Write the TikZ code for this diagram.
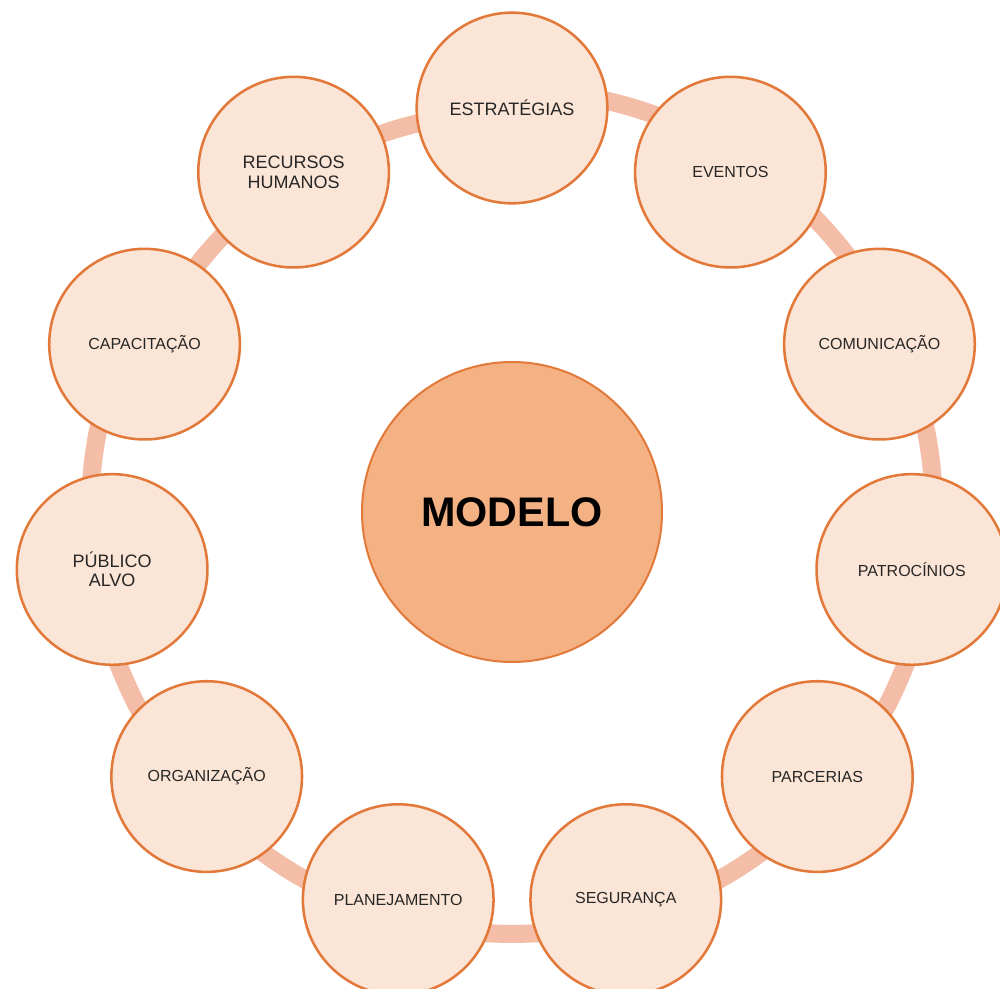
\documentclass[tikz,border=0pt]{standalone}
\usepackage{fontspec}
\setmainfont{Liberation Sans}
\usetikzlibrary{shapes,backgrounds}
\definecolor{peach}{HTML}{FBE5D6}
\definecolor{orng}{HTML}{E2793A}
\definecolor{salmon}{HTML}{F4B183}
\definecolor{ringc}{HTML}{F3BDA8}

\begin{document}
\begin{tikzpicture}[x=0.75pt, y=0.75pt]
\tikzstyle{nd}=[circle,draw=orng,line width=1.9pt,fill=peach,text=black!85,minimum size=143pt,inner sep=0pt,align=center,font=\fontsize{12}{14.6}\selectfont]
\tikzstyle{big}=[font=\fontsize{13.5}{14.6}\selectfont]
\tikzstyle{rg}=[draw=ringc,line width=13.6pt,bend left=90,looseness=0.515]
\tikzstyle{rgflat}=[draw=ringc,line width=13.6pt,bend left=9.9,looseness=1.08]
\useasboundingbox (0,0) rectangle (1000,989);
\node[nd, fill=salmon, line width=1.5pt, minimum size=225pt, text=black,
      font=\fontsize{31}{37}\selectfont\bfseries] (modelo) at (512,477) {MODELO};
\node[nd, big] (estrategias)  at ([shift={(90:404)}]modelo)      {ESTRATÉGIAS};
\node[nd]      (eventos)      at ([shift={(57.27:404)}]modelo)   {EVENTOS};
\node[nd]      (comunicacao)  at ([shift={(24.55:404)}]modelo)   {COMUNICAÇÃO};
\node[nd]      (patrocinios)  at ([shift={(-8.18:404)}]modelo)   {PATROCÍNIOS};
\node[nd]      (parcerias)    at ([shift={(-40.91:404)}]modelo)  {PARCERIAS};
\node[nd]      (seguranca)    at ([shift={(-73.64:404)}]modelo)  {SEGURANÇA};
\node[nd]      (planejamento) at ([shift={(-106.36:404)}]modelo) {PLANEJAMENTO};
\node[nd]      (organizacao)  at ([shift={(-139.09:404)}]modelo) {ORGANIZAÇÃO};
\node[nd, big] (publico)      at ([shift={(-171.82:404)}]modelo) {PÚBLICO\\ALVO};
\node[nd]      (capacitacao)  at ([shift={(155.45:404)}]modelo)  {CAPACITAÇÃO};
\node[nd, big] (recursos)     at ([shift={(122.73:404)}]modelo)  {RECURSOS\\HUMANOS};
% ring behind the circles
\begin{pgfonlayer}{background}
\path
(estrategias.center)  edge [rg]     (eventos.center)
(eventos.center)      edge [rg]     (comunicacao.center)
(comunicacao.center)  edge [rg]     (patrocinios.center)
(patrocinios.center)  edge [rg]     (parcerias.center)
(parcerias.center)    edge [rg]     (seguranca.center)
(seguranca.center)    edge [rg]     (planejamento.center)
(planejamento.center) edge [rg]     (organizacao.center)
(organizacao.center)  edge [rg]     (publico.center)
(publico.center)      edge [rg]     (capacitacao.center)
(capacitacao.center)  edge [rgflat] (recursos.center)
(recursos.center)     edge [rgflat] (estrategias.center);
\end{pgfonlayer}
\end{tikzpicture}
\end{document}
